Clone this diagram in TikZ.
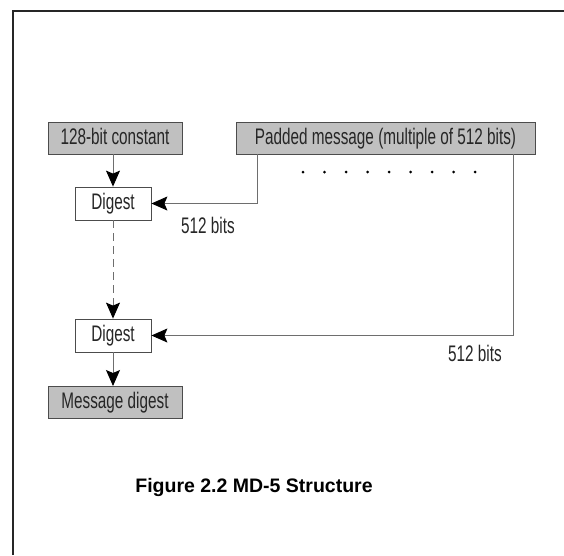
\documentclass[tikz,border=0pt]{standalone}
\usepackage{fontspec}
\usepackage{tikz}
\usetikzlibrary{arrows.meta}
\newfontfamily\narrowfont[FakeStretch=0.68]{Liberation Sans}
\newfontfamily\capfont{Liberation Sans}
\definecolor{boxgray}{RGB}{192,192,192}
\definecolor{linegray}{RGB}{110,110,110}

\begin{document}
\begin{tikzpicture}[x=1pt,y=-1pt,
  txt/.style={font=\narrowfont\fontsize{22.5}{24}\selectfont,text=black!85},
  graybox/.style={txt,draw=black!70,fill=boxgray,line width=1pt,minimum height=32pt,inner sep=0pt,text height=16pt,text depth=4pt},
  whitebox/.style={txt,draw=black!70,fill=white,line width=0.8pt,minimum height=33pt,inner sep=0pt,text height=16pt,text depth=4pt},
  conn/.style={draw=linegray,line width=1pt,-{Stealth[length=16pt,width=14pt,inset=3pt,fill=black,color=black]}}]
\useasboundingbox (0,0) rectangle (564,555);
\draw[black!85,line width=2.5pt] (13,555) -- (13,11) -- (564,11);

\node (const) [graybox,minimum width=134pt] at (115,138) {128-bit constant};
\node (pad) [graybox,minimum width=299pt] at (385.5,138) {Padded message (multiple of 512 bits)};
\node (dig1) [whitebox,minimum width=76pt] at (113,203.5) {Digest};
\node (dig2) [whitebox,minimum width=76pt] at (113,335.5) {Digest};
\node (msg) [graybox,minimum width=134pt] at (115,402) {Message digest};
\node (bits1) [txt] at (208,225) {512 bits};
\node (bits2) [txt] at (475,353) {512 bits};
\node (cap) [font=\capfont\bfseries\fontsize{19.5}{22}\selectfont,anchor=base] at (254,492) {Figure 2.2 MD-5 Structure};

\foreach \i in {0,...,8}
  \fill (303+\i*21.5,172) circle (1.5pt);

\draw[conn] (113,154) -- (dig1);
\draw[conn,dash pattern=on 8pt off 5pt] (dig1) -- (dig2);
\draw[conn] (dig2) -- (113,386);
\draw[conn] (257,154) |- (dig1.east);
\draw[conn] (513,154) |- (dig2.east);
\end{tikzpicture}
\end{document}
